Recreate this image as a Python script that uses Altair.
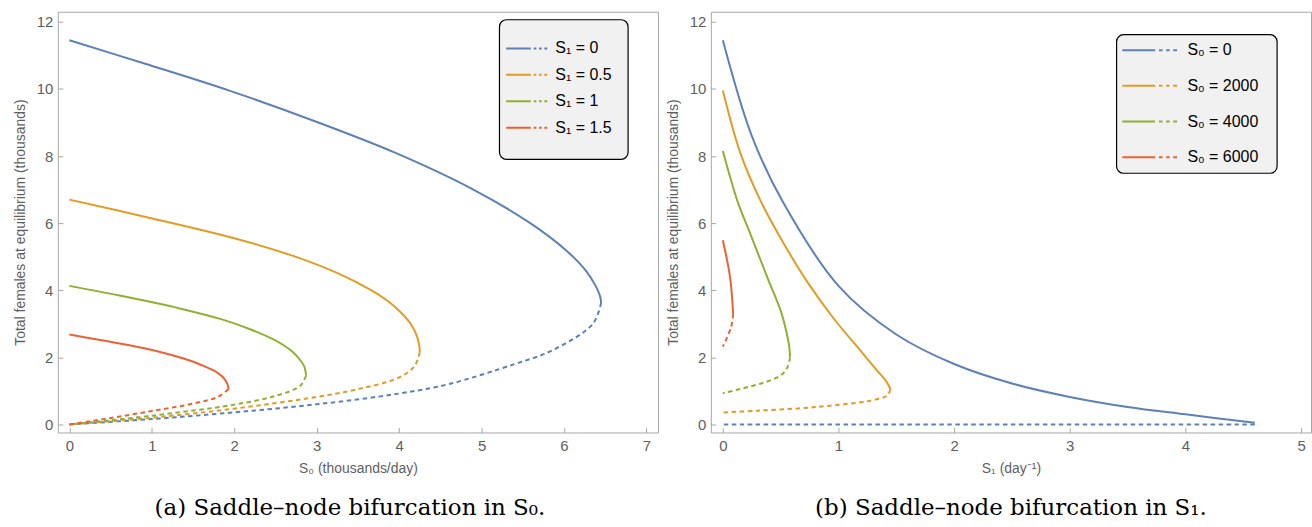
import altair as alt
import pandas as pd

# Mathematica-style default palette
COLORS = ["#5E81B5", "#E19C24", "#8FB032", "#EB6235"]

# ---------------- Panel (a): equilibria against S0 (thousands/day) ----------------
a_labels = ["S₁ = 0", "S₁ = 0.5", "S₁ = 1", "S₁ = 1.5"]

# stable (upper) branches, (S0, females) in thousands
a_s1_0_stable = [(0, 11.45), (0.92, 10.75), (1.94, 9.95), (3.02, 9.0), (3.95, 8.1), (4.9, 7.0),
                 (5.59, 6.0), (6.02, 5.2), (6.26, 4.6), (6.39, 4.1), (6.44, 3.8), (6.45, 3.62)]
a_s1_05_stable = [(0, 6.7), (0.9, 6.2), (2.0, 5.55), (2.74, 5.0), (3.26, 4.5), (3.66, 4.0),
                  (3.85, 3.7), (4.0, 3.39), (4.14, 3.0), (4.22, 2.6), (4.247, 2.3), (4.25, 2.15)]
a_s1_1_stable = [(0, 4.13), (0.61, 3.84), (1.35, 3.45), (1.85, 3.13), (2.2, 2.83), (2.47, 2.54),
                 (2.6, 2.36), (2.7, 2.18), (2.79, 1.95), (2.85, 1.72), (2.868, 1.54), (2.87, 1.45)]
a_s1_15_stable = [(0, 2.68), (0.41, 2.5), (0.91, 2.27), (1.24, 2.07), (1.48, 1.89), (1.66, 1.71),
                  (1.75, 1.61), (1.82, 1.5), (1.88, 1.36), (1.916, 1.21), (1.928, 1.1), (1.93, 1.05)]

# unstable (lower) branches
a_s1_0_unstable = [(6.45, 3.62), (6.35, 3.0), (5.85, 2.2), (5.4, 1.8), (4.6, 1.2), (4.0, 0.92),
                   (3.0, 0.6), (2.0, 0.36), (1.0, 0.16), (0, 0)]
a_s1_05_unstable = [(4.25, 2.15), (4.19, 1.75), (4.0, 1.4), (3.5, 1.05), (3.0, 0.82), (2.0, 0.47),
                    (1.0, 0.2), (0, 0)]
a_s1_1_unstable = [(2.87, 1.45), (2.8, 1.15), (2.5, 0.85), (2.0, 0.59), (1.0, 0.26), (0, 0)]
a_s1_15_unstable = [(1.93, 1.05), (1.8, 0.82), (1.5, 0.62), (1.0, 0.4), (0.5, 0.19), (0, 0)]

# ---------------- Panel (b): equilibria against S1 (per day) ----------------
b_labels = ["S₀ = 0", "S₀ = 2000", "S₀ = 4000", "S₀ = 6000"]

b_s0_0_stable = [(0, 11.45), (0.25, 8.6), (0.516, 6.65), (1.0, 4.13), (1.5, 2.68),
                 (2.0, 1.8), (2.5, 1.22), (3.0, 0.82), (3.5, 0.52), (4.0, 0.3), (4.6, 0.05)]
b_s0_2000_stable = [(0, 9.95), (0.15, 8.1), (0.328, 6.65), (0.53, 5.37), (0.73, 4.25), (0.96, 3.15),
                    (1.19, 2.2), (1.33, 1.62), (1.41, 1.3), (1.45, 1.05)]
b_s0_4000_stable = [(0, 8.15), (0.127, 6.65), (0.24, 5.66), (0.386, 4.37), (0.5, 3.39),
                    (0.55, 2.75), (0.575, 2.3), (0.58, 2.0)]
b_s0_6000_stable = [(0, 5.49), (0.063, 4.37), (0.089, 3.29)]

b_s0_0_unstable = [(4.6, 0.0), (2.3, 0.0), (0, 0.0)]
b_s0_2000_unstable = [(1.45, 1.05), (1.42, 0.86), (1.32, 0.74), (1.19, 0.66), (0.9, 0.55),
                      (0.67, 0.48), (0.3, 0.41), (0, 0.356)]
b_s0_4000_unstable = [(0.58, 2.0), (0.565, 1.75), (0.52, 1.52), (0.45, 1.37), (0.33, 1.22),
                      (0.155, 1.06), (0, 0.93)]
b_s0_6000_unstable = [(0.089, 3.29), (0.07, 2.89), (0, 2.32)]

a_x_ticks = [0, 1, 2, 3, 4, 5, 6, 7]
b_x_ticks = [0, 1, 2, 3, 4, 5]
y_ticks = [0, 2, 4, 6, 8, 10, 12]

# legend glyph: a solid stretch followed by three short dashes
LEGEND_PATH = ("M-1.373,0L0.275,0M0.467,0L0.645,0M0.824,0L1.002,0M1.18,0L1.373,0")

FONT = "Liberation Sans"
GREY = "#5f5f5f"
FRAME = "#a8a8a8"


def to_frame(labels, branches):
    rows = []
    for label, pts in zip(labels, branches):
        for i, (x, y) in enumerate(pts):
            rows.append({"curve": label, "i": i, "x": x, "y": y})
    return pd.DataFrame(rows)


def panel(labels, stable, unstable, x_domain, x_ticks, x_title, caption, caption_dx,
          box, legend_xy, sym_size, row_pad, label_offset):
    xs = alt.Scale(domain=x_domain, nice=False, zero=False)
    ys = alt.Scale(domain=[-0.24, 12.3], nice=False, zero=False)
    legend = alt.Legend(orient="none", legendX=legend_xy[0], legendY=legend_xy[1], title=None,
                        direction="vertical", symbolType=LEGEND_PATH, symbolSize=sym_size,
                        symbolStrokeWidth=2, symbolFillColor="transparent",
                        labelFont=FONT, labelFontSize=16, labelColor="black",
                        rowPadding=row_pad, labelOffset=label_offset, padding=0)
    color = alt.Color("curve:N", scale=alt.Scale(domain=labels, range=COLORS), legend=legend)

    main_x = alt.Axis(values=x_ticks, orient="bottom", tickSize=0, domain=False, grid=False,
                      labelPadding=6, title=x_title, titlePadding=8)
    main_y = alt.Axis(values=y_ticks, orient="left", tickSize=0, domain=False, grid=False,
                      labelPadding=5, title="Total females at equilibrium (thousands)",
                      titlePadding=9)
    # short inward-pointing ticks along the bottom and left edges of the frame
    tick_x = alt.Axis(values=x_ticks, orient="bottom", offset=-5, tickSize=5, labels=False,
                      domain=False, grid=False, title=None)
    tick_y = alt.Axis(values=y_ticks, orient="left", offset=-5, tickSize=5, labels=False,
                      domain=False, grid=False, title=None)

    bg = alt.Chart(pd.DataFrame({"k": [0]})).mark_rect(
        fill="#f1f1f1", stroke="black", strokeWidth=1.2, cornerRadius=7
    ).encode(x=alt.value(box[0]), x2=alt.value(box[1]), y=alt.value(box[2]), y2=alt.value(box[3]))

    dashed = alt.Chart(to_frame(labels, unstable)).mark_line(
        strokeWidth=2, strokeDash=[4.5, 3.5], interpolate="catmull-rom"
    ).encode(
        x=alt.X("x:Q", scale=xs, axis=tick_x),
        y=alt.Y("y:Q", scale=ys, axis=tick_y),
        color=color,
        order=alt.Order("i:Q"),
    )
    solid = alt.Chart(to_frame(labels, stable)).mark_line(
        strokeWidth=2, interpolate="catmull-rom"
    ).encode(
        x=alt.X("x:Q", scale=xs, axis=main_x),
        y=alt.Y("y:Q", scale=ys, axis=main_y),
        color=color,
        order=alt.Order("i:Q"),
    )
    return alt.layer(bg, dashed, solid).resolve_axis(x="independent", y="independent").properties(
        width=602, height=422,
        title=alt.TitleParams(text=caption, orient="bottom", anchor="middle", font="DejaVu Serif",
                              fontSize=23, fontWeight="normal", color="black", offset=22,
                              dx=caption_dx),
    )


left = panel(a_labels,
             [a_s1_0_stable, a_s1_05_stable, a_s1_1_stable, a_s1_15_stable],
             [a_s1_0_unstable, a_s1_05_unstable, a_s1_1_unstable, a_s1_15_unstable],
             [-0.14, 7.14], a_x_ticks, "S₀ (thousands/day)",
             "(a) Saddle–node bifurcation in S₀.", -8,
             box=[443, 572, 8, 148], legend_xy=[454.3, 20.8], sym_size=900, row_pad=2.5,
             label_offset=12.7)

right = panel(b_labels,
              [b_s0_0_stable, b_s0_2000_stable, b_s0_4000_stable, b_s0_6000_stable],
              [b_s0_0_unstable, b_s0_2000_unstable, b_s0_4000_unstable, b_s0_6000_unstable],
              [-0.104, 5.086], b_x_ticks, "S₁ (day⁻¹)",
              "(b) Saddle–node bifurcation in S₁.", 0,
              box=[407, 568, 23, 162], legend_xy=[419.2, 17.5], sym_size=1600, row_pad=6.8,
              label_offset=16.8)

chart = alt.hconcat(left, right, spacing=6).resolve_scale(color="independent").properties(
    padding={"left": 12, "top": 10, "right": 0, "bottom": 0}, background="white"
).configure_view(
    stroke=FRAME, strokeWidth=1
).configure_axis(
    labelFont=FONT, labelFontSize=15, labelColor=GREY,
    titleFont=FONT, titleFontSize=14, titleColor=GREY, titleFontWeight="normal",
    tickColor=FRAME, tickWidth=1
)

chart.save("out.html", embed_options={"renderer": "svg", "actions": False})
